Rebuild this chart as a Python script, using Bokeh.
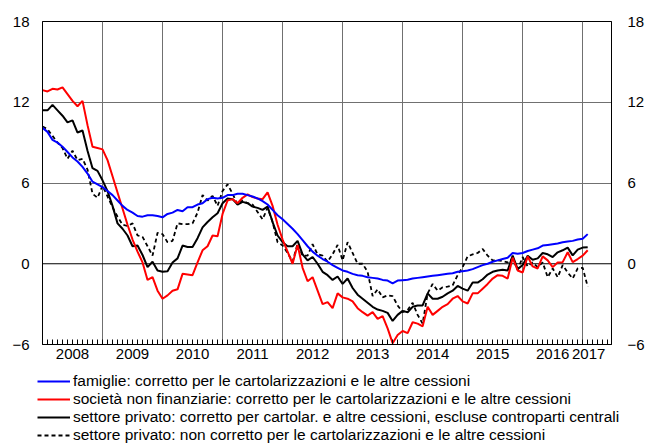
from bokeh.plotting import figure
from bokeh.layouts import column
from bokeh.models import (FixedTicker, LinearAxis, Legend, LegendItem, Span,
                          ColumnDataSource, Range1d)
from bokeh.embed import file_html
from bokeh.resources import INLINE

# monthly observations, Jan 2008 onwards (year fraction)
months = [2008 + i / 12 for i in range(110)]

famiglie = [
    10.1, 9.8, 9.2, 9.0, 8.7, 8.3, 7.9, 7.6, 7.2, 6.7,
    6.1, 5.9, 5.7, 5.4, 5.1, 4.7, 4.3, 4.0, 3.8, 3.55,
    3.5, 3.6, 3.6, 3.55, 3.45, 3.7, 3.8, 4.0, 3.9, 4.2,
    4.2, 4.4, 4.5, 4.8, 4.9, 4.85, 4.9, 5.1, 5.1, 5.2,
    5.2, 5.1, 5.0, 4.85, 4.65, 4.4, 4.0, 3.6, 3.3, 2.95,
    2.6, 2.2, 1.75, 1.3, 0.9, 0.6, 0.35, 0.15, -0.1, -0.3,
    -0.5, -0.6, -0.75, -0.85, -0.9, -1.0, -1.05, -1.1, -1.2, -1.25,
    -1.45, -1.25, -1.22, -1.19, -1.1, -1.05, -1.0, -0.95, -0.9, -0.85,
    -0.8, -0.75, -0.7, -0.6, -0.55, -0.5, -0.4, -0.25, -0.1, 0.0,
    0.15, 0.25, 0.35, 0.45, 0.8, 0.75, 0.8, 0.95, 1.05, 1.15,
    1.35, 1.4, 1.45, 1.5, 1.6, 1.65, 1.7, 1.8, 1.85, 2.2,
]

societa = [
    12.9, 12.8, 13.0, 12.95, 13.1, 12.6, 12.1, 11.7, 12.1, 10.3,
    8.7, 8.6, 8.5, 7.7, 6.5, 5.3, 4.1, 2.9, 1.8, 0.9,
    0.1, -1.2, -1.0, -2.0, -2.6, -2.35, -2.0, -1.9, -0.75, -0.8,
    -0.85, 0.1, 1.0, 1.3, 2.1, 2.05, 3.7, 4.7, 4.8, 4.5,
    4.9, 5.15, 4.95, 4.85, 4.8, 5.3, 4.3, 2.9, 1.8, 0.9,
    0.0, 1.4, -0.3, -1.3, -1.0, -2.0, -3.0, -2.85, -3.3, -2.2,
    -2.5, -2.6, -2.8, -3.3, -3.6, -3.85, -3.6, -4.1, -3.9, -4.8,
    -5.9, -5.3, -5.0, -5.15, -4.35, -4.45, -4.65, -3.2, -3.8, -3.5,
    -3.2, -3.0, -2.6, -2.4, -2.8, -2.95, -2.2, -2.2, -1.85, -1.5,
    -1.1, -0.85, -0.9, -1.1, 0.45, -0.5, -0.65, 0.55, -0.2, -0.35,
    0.55, 0.25, -0.25, 0.1, 0.12, 0.85, 0.12, 0.35, 0.6, 1.0,
]

privato_corr = [
    11.4, 11.4, 11.8, 11.4, 11.0, 10.5, 10.65, 9.75, 9.9, 8.4,
    7.1, 6.9, 6.2, 5.4, 4.3, 3.0, 2.6, 2.1, 1.3, 1.35,
    0.65, -0.25, 0.15, -0.5, -0.6, -0.55, 0.1, 0.4, 1.35, 1.25,
    1.25, 1.9, 2.7, 3.1, 3.45, 3.75, 4.5, 4.85, 4.8, 4.4,
    4.6, 4.5, 4.25, 4.15, 4.0, 4.25, 3.1, 2.1, 1.6, 1.3,
    1.3, 1.7, 0.7, 0.25, 0.5, 0.0, -0.6, -0.85, -1.2, -0.95,
    -1.5, -1.1, -1.8, -2.3, -2.6, -2.9, -3.2, -3.4, -3.5, -3.65,
    -4.25, -3.8, -3.5, -3.6, -3.2, -3.1, -3.1, -2.2, -2.6, -2.6,
    -2.45, -2.2, -2.0, -1.65, -1.85, -2.0, -1.4, -1.4, -1.15, -0.8,
    -0.6, -0.5, -0.45, -0.5, 0.6, -0.4, -0.1, 0.6, 0.3, 0.4,
    0.8, 0.7, 0.5, 0.85, 1.0, 1.2, 0.62, 1.05, 1.2, 1.23,
]

privato_non_corr = [
    10.2, 10.0, 9.5, 9.0, 8.6, 7.8, 8.4, 7.7, 7.8, 7.0,
    5.2, 4.9, 5.8, 5.0, 4.2, 3.5, 2.9, 2.8, 3.0, 2.1,
    2.0, 1.3, 0.6, 2.3, 2.2, 1.6, 1.7, 3.0, 2.95, 2.95,
    3.0, 3.8, 5.1, 4.7, 5.05, 4.3, 5.4, 5.9, 5.2, 4.4,
    4.7, 4.5, 4.4, 3.85, 3.3, 4.15, 3.1, 1.6, 1.36, 0.8,
    0.15, 1.5, 0.6, 0.6, 1.45, 0.7, 0.6, 0.15, 0.7, 1.4,
    0.25, 1.6, 0.8, 0.0, 0.0, -0.6, -2.4, -1.9, -2.5, -2.35,
    -2.4, -3.1, -3.6, -3.45, -2.9, -3.8, -4.45, -2.2, -1.5, -2.0,
    -1.75, -1.7, -1.6, -0.85, -0.25, 0.55, 0.7, 0.8, 1.1, 0.6,
    0.25, 0.25, 0.2, 0.1, 0.4, -0.45, 0.5, -0.2, 0.1, -0.25,
    0.1, -1.0, -0.35, -1.0, -0.1, -0.65, -1.1, -0.35, -0.3, -1.7,
]

year_labels = ["2008", "2009", "2010", "2011", "2012", "2013", "2014",
               "2015", "2016", "2017"]
y_ticks = [-6, 0, 6, 12, 18]

legend_labels = [
    "famiglie: corretto per le cartolarizzazioni e le altre cessioni",
    "società non finanziarie: corretto per le cartolarizzazioni e le altre cessioni",
    "settore privato: corretto per cartolar. e altre cessioni, escluse controparti centrali",
    "settore privato: non corretto per le cartolarizzazioni e le altre cessioni",
]

FONT = "Liberation Sans"
FS = "15px"
LFS = "15.5px"

series_style = [
    ("fam", famiglie, "#0000ff", 2, "solid"),
    ("soc", societa, "#ff0000", 2, "solid"),
    ("pc", privato_corr, "black", 2, "solid"),
    ("pn", privato_non_corr, "black", 1.8, "4 3"),
]

src = ColumnDataSource(dict(x=months, fam=famiglie, soc=societa,
                            pc=privato_corr, pn=privato_non_corr))

# ---------------- main chart ----------------
p = figure(width=647, height=366, output_backend="svg", toolbar_location=None,
           x_range=Range1d(2008, 2017.48), y_range=Range1d(-6, 18),
           min_border_left=42, min_border_top=21, min_border_bottom=22,
           min_border_right=33)
p.frame_align = False
p.background_fill_color = "white"
p.border_fill_color = "white"
p.outline_line_color = "black"
p.outline_line_width = 1

label_pos = [2008.5 + k for k in range(9)] + [2017.1]
minor = [2008 + m / 12 for m in range(1, 114)]
p.xaxis.ticker = FixedTicker(ticks=label_pos, minor_ticks=minor)
p.xaxis.major_label_overrides = {pos: lab for pos, lab in zip(label_pos, year_labels)}
p.xaxis.major_tick_line_color = None
p.xaxis.major_tick_out = 0
p.xaxis.major_tick_in = 0
p.xaxis.minor_tick_in = 5
p.xaxis.minor_tick_out = 0
p.xaxis.minor_tick_line_color = "black"
p.xaxis.axis_line_color = "black"
p.xaxis.major_label_standoff = 4
p.xaxis.major_label_text_font = FONT
p.xaxis.major_label_text_font_size = FS
p.xaxis.major_label_text_color = "black"

p.yaxis.ticker = FixedTicker(ticks=y_ticks)
p.yaxis.major_tick_line_color = None
p.yaxis.minor_tick_line_color = None
p.yaxis.major_tick_out = 0
p.yaxis.major_tick_in = 0
p.yaxis.major_label_standoff = 13
p.yaxis.major_label_text_font = FONT
p.yaxis.major_label_text_font_size = FS
p.yaxis.major_label_text_color = "black"
p.yaxis.axis_line_color = "black"

ry = LinearAxis(ticker=FixedTicker(ticks=y_ticks))
ry.major_tick_line_color = None
ry.minor_tick_line_color = None
ry.major_tick_out = 0
ry.major_tick_in = 0
ry.major_label_standoff = 16
ry.major_label_text_font = FONT
ry.major_label_text_font_size = FS
ry.major_label_text_color = "black"
ry.axis_line_color = "black"
p.add_layout(ry, "right")

p.xgrid.ticker = FixedTicker(ticks=[2009 + k for k in range(9)])
p.xgrid.grid_line_color = "#707070"
p.xgrid.grid_line_width = 1
p.ygrid.ticker = FixedTicker(ticks=[6, 12])
p.ygrid.grid_line_color = "#707070"
p.ygrid.grid_line_width = 1
p.add_layout(Span(location=0, dimension="width", line_color="black",
                  line_width=1, level="underlay"))

for key, _vals, color, lw, dash in reversed(series_style):
    p.line("x", key, source=src, line_color=color, line_width=lw,
           line_dash=dash)

# ---------------- legend strip ----------------
lg = figure(width=647, height=77, output_backend="svg", toolbar_location=None,
            x_range=Range1d(0, 1), y_range=Range1d(0, 1),
            x_axis_type=None, y_axis_type=None,
            min_border_left=0, min_border_right=0,
            min_border_top=0, min_border_bottom=0)
lg.frame_align = False
lg.outline_line_color = None
lg.grid.visible = False
lg.background_fill_color = "white"
lg.border_fill_color = "white"

nan = float("nan")
items = []
for (key, _vals, color, lw, dash), lab in zip(series_style, legend_labels):
    r = lg.line(x=[nan], y=[nan], line_color=color, line_width=lw,
                line_dash=dash)
    items.append(LegendItem(label=lab, renderers=[r]))

legend = Legend(items=items, location=(37, -1), orientation="vertical",
                border_line_color=None, background_fill_alpha=0,
                padding=0, margin=0, spacing=0,
                glyph_width=33, glyph_height=18, label_height=18,
                label_standoff=3, label_text_font=FONT,
                label_text_font_size=LFS, label_text_color="black")
lg.add_layout(legend)

layout = column(p, lg, spacing=0)
open("out.html", "w").write(file_html(layout, INLINE))
